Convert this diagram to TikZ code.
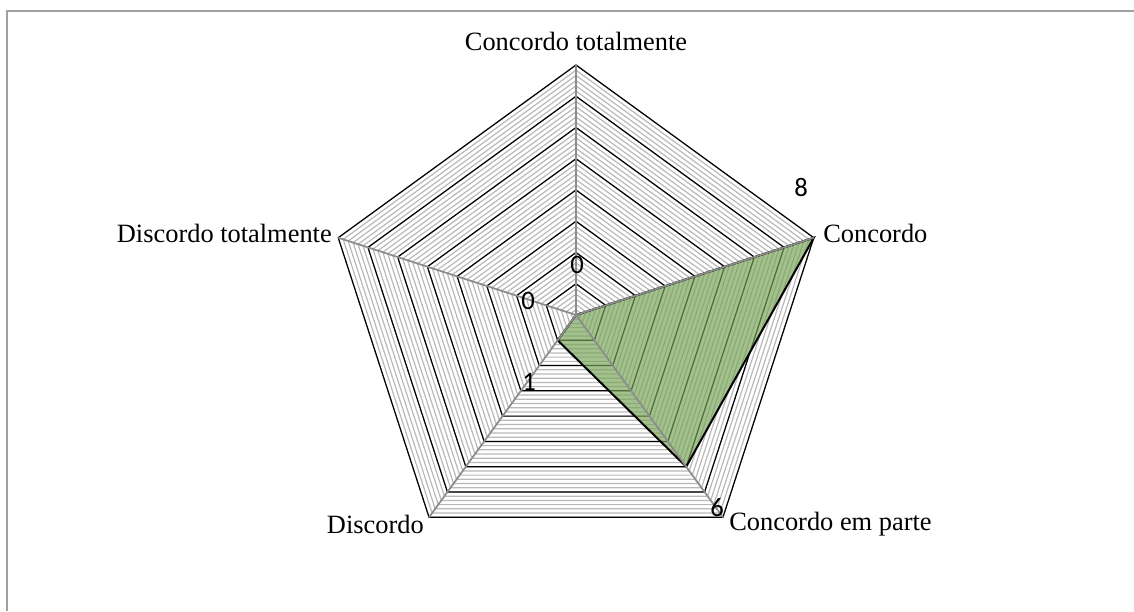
\documentclass[tikz,border=0pt]{standalone}
\usepackage{fontspec}
\setmainfont{Liberation Serif}
\newfontfamily\calibri{Carlito}
\usetikzlibrary{calc}

\definecolor{framegray}{RGB}{160,160,160}
\definecolor{minorgray}{RGB}{185,185,185}
\definecolor{axisgray}{RGB}{140,140,140}
\definecolor{seriesgreen}{RGB}{118,163,85}

\tikzset{
    minorline/.style = {minorgray, line width = 0.9pt},
    majorline/.style = {black, line width = 0.9pt},
    spoke/.style     = {axisgray, line width = 1.3pt},
    catlabel/.style  = {inner sep = 0pt, font = \fontsize{19.8}{23}\selectfont},
    vallabel/.style  = {inner sep = 0pt, font = \calibri\fontsize{20}{23}\selectfont}
}

\begin{document}
\begin{tikzpicture}[x = 0.75pt, y = 0.75pt, line join = miter]

    \useasboundingbox (0,0) rectangle (1134,611);

    \def\radius{250}
    \def\steps{48}

    \draw[framegray, line width = 1.5pt] (7.3,0) -- (7.3,600.3) -- (1134,600.3);

    \coordinate (O) at (576,296);

    \begin{scope}[shift = (O)]
        % fine rings, then the unit rings
        \foreach \k [evaluate = \k as \r using \k*\radius/\steps] in {1,...,\steps}
            \draw[minorline] (90:\r) -- (162:\r) -- (234:\r) -- (306:\r) -- (18:\r) -- cycle;
        \foreach \k [evaluate = \k as \r using \k*\radius/8] in {1,...,8}
            \draw[majorline] (90:\r) -- (162:\r) -- (234:\r) -- (306:\r) -- (18:\r) -- cycle;

        \path foreach \ANG/\VAL/\NAME in {90/0/A, 18/8/B, 306/6/C, 234/1/D, 162/0/E}
            {(\ANG:\VAL*\radius/8) coordinate (P\NAME)};

        \fill[seriesgreen, fill opacity = 0.68] (PA) -- (PB) -- (PC) -- (PD) -- (PE) -- cycle;
        \draw[black, line width = 1.5pt] (PA) -- (PB) -- (PC) -- (PD) -- (PE) -- cycle;

        \foreach \ANG/\NAME in {90/1, 18/2, 306/3, 234/4, 162/5}{
            \coordinate (V\NAME) at (\ANG:\radius);
            \draw[spoke] (0,0) -- (V\NAME);}
    \end{scope}

    \node[catlabel] (ctotal) at (576,570) {Concordo totalmente};
    \node[catlabel, anchor = west] (conc) at (823,378) {Concordo};
    \node[catlabel, anchor = west] (cparte) at (729,87) {Concordo em parte};
    \node[catlabel, anchor = east] (disc) at (424,87) {Discordo};
    \node[catlabel, anchor = east] (dtotal) at (332,378) {Discordo totalmente};

    \node[vallabel] (vA) at (577,346) {0};
    \node[vallabel] (vB) at (801,424) {8};
    \node[vallabel] (vC) at (717,103) {6};
    \node[vallabel] (vD) at (529,229) {1};
    \node[vallabel] (vE) at (528,310) {0};

\end{tikzpicture}
\end{document}
